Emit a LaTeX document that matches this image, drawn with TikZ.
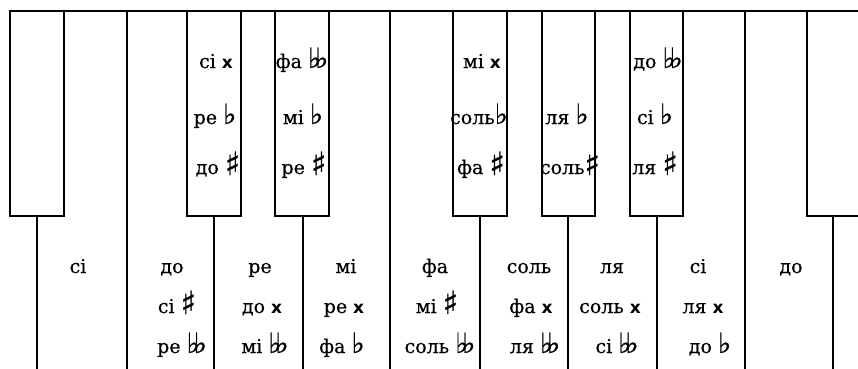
\documentclass[tikz,border=0pt]{standalone}
\usepackage{fontspec}
\setmainfont{DejaVu Serif}[FakeBold=0.5]
\newfontfamily\musfont{DejaVu Sans}[FakeBold=0.8]
\newfontfamily\dubfont{DejaVu Sans Bold}
\newcommand\diez{{\musfont\fontsize{32}{32}\selectfont\raisebox{-1pt}{♯}}}
\newcommand\bemol{{\musfont\fontsize{28}{28}\selectfont ♭}}
\newcommand\dubbemol{{\musfont\fontsize{28}{28}\selectfont ♭\kern-0.22em♭}}
\newcommand\dubdiez{{\dubfont\fontsize{17}{17}\selectfont x}}

\begin{document}
\begin{tikzpicture}[x=1pt, y=-1pt,
    key/.style={line width=2.6pt, line cap=rect},
    note/.style={anchor=base, inner sep=0pt, font=\fontsize{19}{22}\selectfont}
]
\useasboundingbox (0,0) rectangle (858,368);

\draw[key] (10,11) -- (858,11);
\draw[key] (127,11) -- (127,368);
\draw[key] (390,11) -- (390,368);
\draw[key] (745,11) -- (745,368);
\draw[key] (10,11) -- (10,216) -- (64,216) -- (64,11);
\draw[key] (187,11) -- (187,216) -- (241,216) -- (241,11);
\draw[key] (275,11) -- (275,216) -- (329,216) -- (329,11);
\draw[key] (453,11) -- (453,216) -- (507,216) -- (507,11);
\draw[key] (542,11) -- (542,216) -- (595,216) -- (595,11);
\draw[key] (630,11) -- (630,216) -- (683,216) -- (683,11);
\draw[key] (807,11) -- (807,216) -- (858,216);
\draw[key] (37,216) -- (37,368);
\draw[key] (214,216) -- (214,368);
\draw[key] (303,216) -- (303,368);
\draw[key] (480,216) -- (480,368);
\draw[key] (568,216) -- (568,368);
\draw[key] (657,216) -- (657,368);
\draw[key] (833,216) -- (833,368);

\node[note] (dodiez-a) at (216,68) {сі \dubdiez};
\node[note] (dodiez-b) at (215,124) {ре \bemol};
\node[note] (dodiez-c) at (218,174) {до \diez};
\node[note] (rediez-a) at (302,68) {фа \dubbemol};
\node[note] (rediez-b) at (303,124) {мі \bemol};
\node[note] (rediez-c) at (304,174) {ре \diez};
\node[note] (fadiez-a) at (482,68) {мі \dubdiez};
\node[note] (fadiez-b) at (479,124) {соль\bemol};
\node[note] (fadiez-c) at (481,174) {фа \diez};
\node[note] (soldiez-b) at (567,124) {ля \bemol};
\node[note] (soldiez-c) at (570,174) {соль\diez};
\node[note] (lyadiez-a) at (658,68) {до \dubbemol};
\node[note] (lyadiez-b) at (655,124) {сі \bemol};
\node[note] (lyadiez-c) at (655,174) {ля \diez};

\node[note] (si1-a) at (78,273) {сі};
\node[note] (do1-a) at (172,273) {до};
\node[note] (do1-b) at (177,313) {сі \diez};
\node[note] (do1-c) at (182,353) {ре \dubbemol};
\node[note] (re-a) at (260,273) {ре};
\node[note] (re-b) at (262,313) {до \dubdiez};
\node[note] (re-c) at (265,353) {мі \dubbemol};
\node[note] (mi-a) at (346,273) {мі};
\node[note] (mi-b) at (344,313) {ре \dubdiez};
\node[note] (mi-c) at (342,353) {фа \bemol};
\node[note] (fa-a) at (435,273) {фа};
\node[note] (fa-b) at (437,313) {мі \diez};
\node[note] (fa-c) at (440,353) {соль \dubbemol};
\node[note] (sol-a) at (529,273) {соль};
\node[note] (sol-b) at (531,313) {фа \dubdiez};
\node[note] (sol-c) at (535,353) {ля \dubbemol};
\node[note] (lya-a) at (612,273) {ля};
\node[note] (lya-b) at (610,313) {соль \dubdiez};
\node[note] (lya-c) at (617,353) {сі \dubbemol};
\node[note] (si2-a) at (698,273) {сі};
\node[note] (si2-b) at (703,313) {ля \dubdiez};
\node[note] (si2-c) at (710,353) {до \bemol};
\node[note] (do2-a) at (791,273) {до};
\end{tikzpicture}
\end{document}
